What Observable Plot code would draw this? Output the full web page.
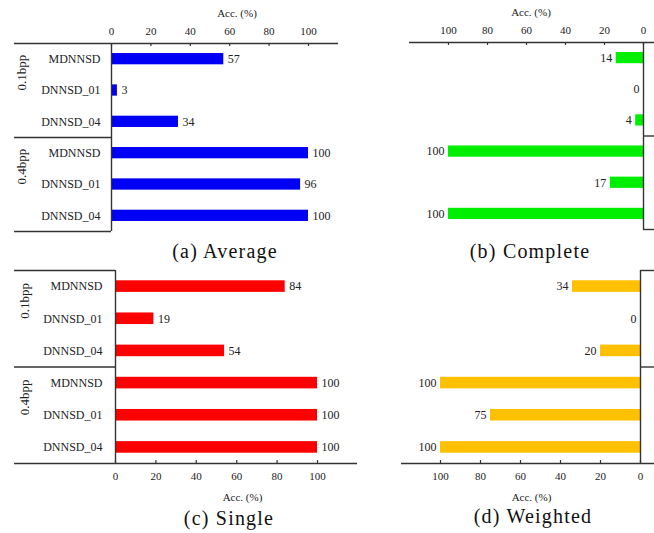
<!DOCTYPE html>
<html><head><meta charset="utf-8">
<script src="https://cdn.jsdelivr.net/npm/d3@7"></script>
<script src="https://cdn.jsdelivr.net/npm/@observablehq/plot@0.6"></script>
<style>
body{margin:0;background:#fff;}
#root{position:relative;width:654px;height:533px;overflow:hidden;background:#fff;}
.panel{position:absolute;}
.cap{position:absolute;font-family:"Liberation Serif","Times New Roman",Times,"DejaVu Serif",serif;font-size:20px;color:#111;transform:translate(-50%,-50%);white-space:nowrap;letter-spacing:1.2px;}
</style></head><body><div id="root"></div>
<script>
const groups = ["0.1bpp", "0.4bpp"];
const categories = ["MDNNSD", "DNNSD_01", "DNNSD_04"];
const average = [57, 3, 34, 100, 96, 100];
const complete = [14, 0, 4, 100, 17, 100];
const single = [84, 19, 54, 100, 100, 100];
const weighted = [34, 0, 20, 100, 75, 100];
const xTicks = [0, 20, 40, 60, 80, 100];
const axisLabel = "Acc. (%)";
const captions = ["(a) Average", "(b) Complete", "(c) Single", "(d) Weighted"];

const rows = groups.flatMap((g, gi) => categories.map((c, ci) => ({group: g, category: c, row: gi * categories.length + ci})));
const nRows = rows.length;
const sepRow = categories.length;

const root = document.getElementById("root");
const lineColor = "#333";
const serif = "'Liberation Serif', 'Times New Roman', Times, 'DejaVu Serif', serif";

function panel(cfg) {
  const data = rows.map((r, i) => ({...r, value: cfg.values[i]}));
  const rev = cfg.reverse;
  const top = cfg.anchor === "top";
  const axisEdge = top ? 0 : nRows;
  const otherEdge = top ? nRows : 0;
  const marks = [
    Plot.rect(data, {x1: 0, x2: "value", y1: d => d.row + 0.5 - 0.18, y2: d => d.row + 0.5 + 0.18, fill: cfg.color}),
    Plot.text(data, {x: "value", y: d => d.row + 0.5, text: d => String(d.value), dx: rev ? -4 : 4, textAnchor: rev ? "end" : "start", fontSize: 12}),
    Plot.ruleX([0], {stroke: lineColor, strokeWidth: 1.4}),
    Plot.ruleY([axisEdge], {stroke: lineColor, strokeWidth: 1.4, insetLeft: cfg.extL, insetRight: cfg.extR}),
    Plot.ruleX(xTicks, {y1: axisEdge, y2: axisEdge, stroke: lineColor, strokeWidth: 1.2, ...(top ? {insetBottom: -3} : {insetTop: -3})}),
    Plot.axisX({anchor: cfg.anchor, ticks: xTicks, tickSize: 0, tickPadding: 9, label: null, fontSize: 11}),
    Plot.text([axisLabel], {frameAnchor: cfg.anchor, lineAnchor: "middle", dy: top ? -30 : 34, dx: cfg.labelDx, fontSize: 11})
  ];
  if (!rev) {
    marks.push(
      Plot.ruleY([sepRow, otherEdge], {x1: 0, x2: 0, insetLeft: -cfg.sideExt, stroke: lineColor, strokeWidth: 1.4}),
      Plot.axisY({anchor: "left", ticks: rows.map(r => r.row + 0.5), tickFormat: v => rows[Math.floor(v)].category, tickSize: 0, tickPadding: cfg.catPad, label: null, fontSize: 12}),
      Plot.text(groups, {y: (d, i) => i * categories.length + categories.length / 2, frameAnchor: "left", dx: cfg.groupDx, rotate: -90, fontSize: 13, lineAnchor: "middle"})
    );
  } else {
    marks.push(
      Plot.ruleY([sepRow, otherEdge], {x1: 0, x2: 0, insetRight: -cfg.marginRight, stroke: lineColor, strokeWidth: 1.4})
    );
  }
  const svg = Plot.plot({
    width: cfg.width, height: cfg.height,
    marginLeft: cfg.marginLeft, marginRight: cfg.marginRight,
    marginTop: cfg.marginTop, marginBottom: cfg.marginBottom,
    x: {domain: [0, 100], reverse: rev, axis: null},
    y: {domain: [0, nRows], reverse: true, axis: null},
    style: {fontFamily: serif, fontSize: "11px", color: "#222", background: "transparent", overflow: "visible"},
    marks
  });
  svg.classList.add("panel");
  svg.style.left = cfg.left + "px";
  svg.style.top = cfg.top + "px";
  root.appendChild(svg);
}

panel({left: 0, top: 0, width: 345, height: 240, marginLeft: 111, marginRight: 37, marginTop: 43, marginBottom: 9,
  reverse: false, anchor: "top", color: "#0000f5", values: average, extL: -97, extR: -30, sideExt: 97, catPad: 11, groupDx: -90, labelDx: 27});
panel({left: 380, top: 0, width: 274, height: 240, marginLeft: 68, marginRight: 11, marginTop: 42, marginBottom: 11,
  reverse: true, anchor: "top", color: "#00ee00", values: complete, extL: -39, extR: -11, labelDx: -15});
panel({left: 0, top: 240, width: 360, height: 270, marginLeft: 115, marginRight: 43, marginTop: 30, marginBottom: 47,
  reverse: false, anchor: "bottom", color: "#ff0000", values: single, extL: -101, extR: -40, sideExt: 101, catPad: 13, groupDx: -91, labelDx: 26});
panel({left: 380, top: 240, width: 274, height: 270, marginLeft: 60, marginRight: 14, marginTop: 30, marginBottom: 47,
  reverse: true, anchor: "bottom", color: "#ffc000", values: weighted, extL: -39, extR: -14, labelDx: -9});

const capPos = [[225, 251], [530, 251], [229, 518], [533, 516]];
captions.forEach((c, i) => {
  const d = document.createElement("div");
  d.className = "cap";
  d.textContent = c;
  d.style.left = capPos[i][0] + "px";
  d.style.top = capPos[i][1] + "px";
  root.appendChild(d);
});
</script>
</body></html>
